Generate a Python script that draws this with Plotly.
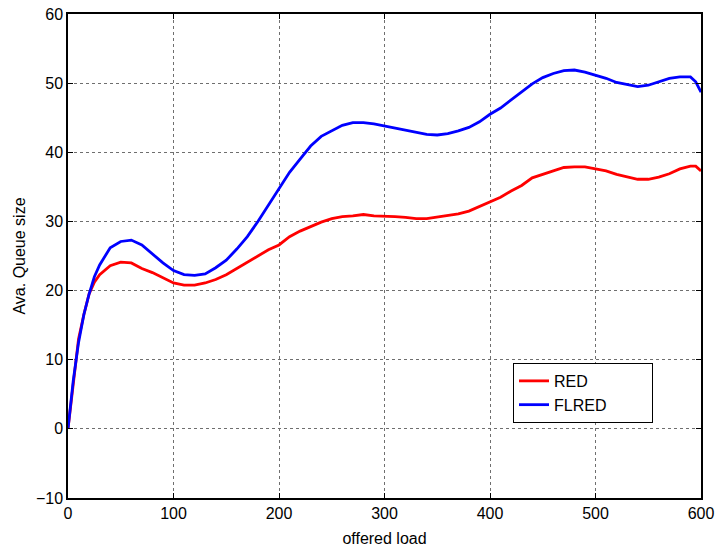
import plotly.graph_objects as go

x = [0, 5, 10, 15, 20, 25, 30, 40, 50, 60, 70, 80, 90, 100, 110, 120, 130, 140, 150,
     160, 170, 180, 190, 200, 210, 220, 230, 240, 250, 260, 270, 280, 290, 300,
     310, 320, 330, 340, 350, 360, 370, 380, 390, 400, 410, 420, 430, 440, 450,
     460, 470, 480, 490, 500, 510, 520, 530, 540, 550, 560, 570, 580, 590, 595, 600]

red = [0, 7, 13, 16.5, 19.5, 21.2, 22.3, 23.6, 24.1, 24.0, 23.2, 22.6, 21.8, 21.1, 20.8,
       20.8, 21.1, 21.6, 22.3, 23.2, 24.0, 25.0, 25.9, 26.6, 27.8, 28.6, 29.3, 29.9,
       30.4, 30.7, 30.8, 31.0, 30.8, 30.8, 30.7, 30.6, 30.4, 30.4, 30.6, 30.8, 31.1,
       31.5, 32.2, 32.9, 33.5, 34.4, 35.2, 36.3, 36.8, 37.4, 37.8, 37.9, 37.9, 37.6,
       37.3, 36.8, 36.5, 36.1, 36.1, 36.4, 36.9, 37.6, 38.0, 38.0, 37.3]

flred = [0, 7, 12.5, 16.5, 19.5, 22.0, 23.7, 26.2, 27.1, 27.3, 26.6, 25.3, 24.0, 22.9,
         22.3, 22.2, 22.4, 23.3, 24.4, 26.0, 27.8, 30.0, 32.4, 34.8, 37.1, 39.0, 40.9,
         42.3, 43.1, 43.9, 44.3, 44.3, 44.1, 43.8, 43.5, 43.2, 42.8, 42.6, 42.5, 42.7,
         43.1, 43.6, 44.4, 45.5, 46.4, 47.6, 48.8, 49.9, 50.8, 51.4, 51.8, 51.9, 51.6,
         51.2, 50.7, 50.1, 49.8, 49.5, 49.7, 50.2, 50.7, 50.9, 50.9, 50.2, 48.7]

x_ticks = [0, 100, 200, 300, 400, 500, 600]
y_ticks = [-10, 0, 10, 20, 30, 40, 50, 60]
series_names = ["RED", "FLRED"]

font = "Liberation Sans, Arial, sans-serif"
pad = "\u00a0" * 9

fig = go.Figure()
fig.add_trace(go.Scatter(x=x, y=red, mode="lines", name=series_names[0] + pad,
                         line=dict(color="#ff0000", width=2.8)))
fig.add_trace(go.Scatter(x=x, y=flred, mode="lines", name=series_names[1] + pad,
                         line=dict(color="#0000ff", width=2.8)))

axis_common = dict(
    showline=True, linecolor="black", linewidth=1.5, mirror="ticks",
    ticks="inside", ticklen=5, tickcolor="black",
    showgrid=True, gridcolor="#6f6f6f", griddash="dot", gridwidth=1,
    zeroline=False, tickfont=dict(family=font, size=16, color="black"),
    automargin=False,
)

fig.update_layout(
    width=718, height=550,
    margin=dict(l=68, r=17, t=14, b=52),
    paper_bgcolor="white", plot_bgcolor="white",
    font=dict(family=font, color="black"),
    xaxis=dict(range=[0, 600], tickvals=x_ticks,
               title=dict(text="offered load", font=dict(family=font, size=16), standoff=12),
               **axis_common),
    yaxis=dict(range=[-10, 60], tickvals=y_ticks,
               title=dict(text="Ava. Queue size", font=dict(family=font, size=16), standoff=6),
               **axis_common),
    legend=dict(x=0.703, y=0.279, xanchor="left", yanchor="top",
                bgcolor="white", bordercolor="black", borderwidth=1,
                font=dict(family=font, size=16), tracegroupgap=2),
    showlegend=True,
)

fig.write_html("out.html", config={"displayModeBar": False},
               post_script="document.body.style.margin='0';document.body.style.overflow='hidden';")
